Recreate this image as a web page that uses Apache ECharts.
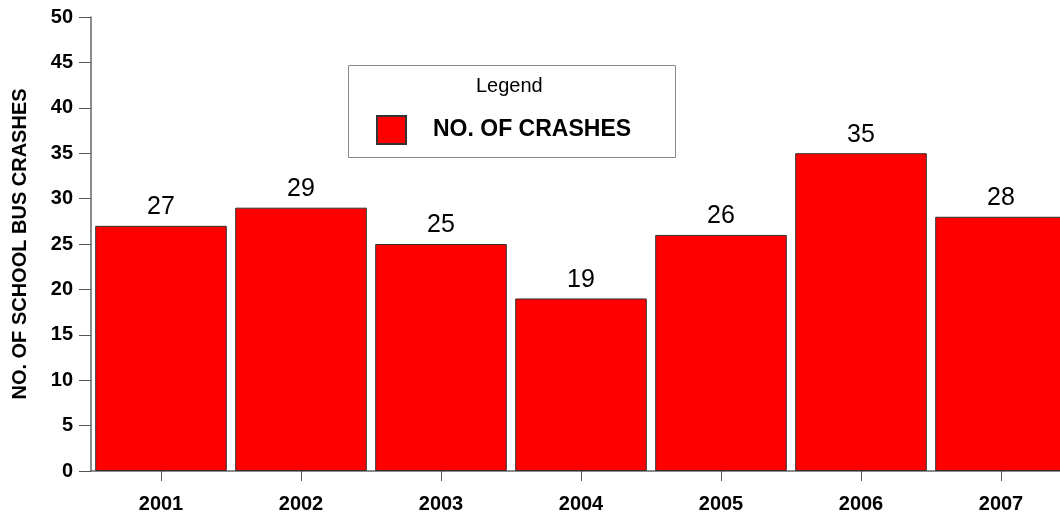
<!DOCTYPE html>
<html>
<head>
<meta charset="utf-8">
<script src="https://cdn.jsdelivr.net/npm/echarts@6/dist/echarts.min.js"></script>
<style>
  html, body { margin: 0; padding: 0; background: #fff; overflow: hidden; }
  #chart { width: 1090px; height: 518px; }
</style>
</head>
<body>
<div id="chart"></div>
<script>
var years = ['2001', '2002', '2003', '2004', '2005', '2006', '2007'];
var crashes = [27, 29, 25, 19, 26, 35, 28];
var seriesName = 'NO. OF CRASHES';

var font = '"Liberation Sans", Arial, sans-serif';

// chart is a bit wider than the window: the last bar runs off the right edge
var myChart = echarts.init(document.getElementById('chart'));
var option = {
    animation: false,
    backgroundColor: '#fff',
    textStyle: { fontFamily: font },
    grid: {
        left: 91,
        top: 17,
        width: 980,
        height: 454
    },
    graphic: [
        {
            type: 'rect',
            left: 348,
            top: 65,
            shape: { width: 327, height: 92 },
            style: { fill: '#fff', stroke: '#888', lineWidth: 1 },
            z: 10
        },
        {
            type: 'text',
            left: 476,
            top: 76,
            style: { text: 'Legend', fontSize: 20, fontFamily: font, fill: '#000' },
            z: 11
        }
    ],
    legend: {
        data: [seriesName],
        left: 376,
        top: 115,
        padding: 0,
        itemWidth: 29,
        itemHeight: 28,
        icon: 'rect',
        z: 12,
        textStyle: {
            fontSize: 23,
            fontWeight: 'bold',
            color: '#000',
            fontFamily: font,
            padding: [0, 0, 0, 22]
        }
    },
    xAxis: {
        type: 'category',
        data: years,
        axisLine: { lineStyle: { color: '#666', width: 1.5 } },
        axisTick: { show: true, interval: 0, alignWithLabel: true, length: 10, lineStyle: { color: '#555', width: 1 } },
        axisLabel: { fontSize: 20, fontWeight: 'bold', color: '#000', margin: 23 }
    },
    yAxis: {
        type: 'value',
        min: 0,
        max: 50,
        interval: 5,
        name: 'NO. OF SCHOOL BUS CRASHES',
        nameLocation: 'middle',
        nameGap: 61,
        nameTextStyle: { fontSize: 20, fontWeight: 'bold', color: '#000' },
        splitLine: { show: false },
        axisLine: { show: true, lineStyle: { color: '#666', width: 1.5 } },
        axisTick: { show: true, length: 12, lineStyle: { color: '#555' } },
        axisLabel: { fontSize: 20, fontWeight: 'bold', color: '#000', margin: 18 }
    },
    series: [
        {
            name: seriesName,
            type: 'bar',
            data: crashes,
            barCategoryGap: '6%',
            itemStyle: { color: '#ff0000', borderColor: '#333', borderWidth: 1 },
            label: {
                show: true,
                position: 'top',
                distance: 6,
                fontSize: 25,
                color: '#000'
            }
        }
    ]
};
myChart.setOption(option);
</script>
</body>
</html>
